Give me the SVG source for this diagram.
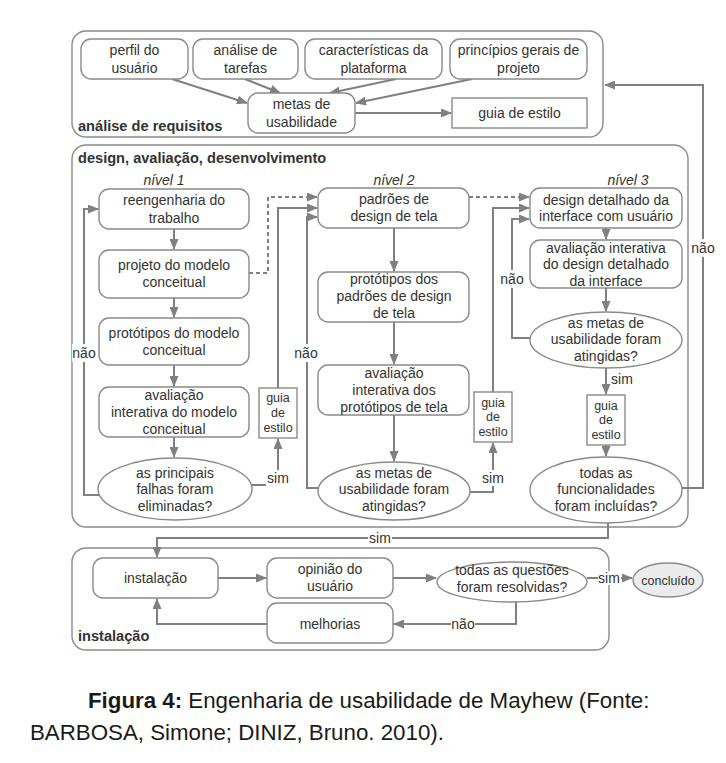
<svg xmlns="http://www.w3.org/2000/svg" width="726" height="763" viewBox="0 0 726 763">
<style>
text{font-family:"Liberation Sans",Arial,sans-serif;fill:#333;font-size:14px;text-anchor:middle}
.sec{fill:none;stroke:#8a8a8a;stroke-width:1.4}
.box{fill:#fff;stroke:#8a8a8a;stroke-width:1.4}
.c{fill:none;stroke:#808080;stroke-width:2}
.d{fill:none;stroke:#808080;stroke-width:2;stroke-dasharray:4 3}
.lbl{fill:#fff;stroke:none}
.b{font-weight:bold;text-anchor:start;font-size:14.6px}
.i{font-style:italic}
.s{font-size:12.5px}
.cap{font-size:22.3px;fill:#1a1a1a;text-anchor:start}
</style>
<defs>
<marker id="a" markerUnits="userSpaceOnUse" markerWidth="11" markerHeight="9" refX="10" refY="4.5" orient="auto">
<path d="M0,0 L11,4.5 L0,9 z" fill="#808080"/>
</marker>
</defs>
<rect id="background" width="726" height="763" fill="#fff"/>

<!-- sections -->
<g id="sec-analise">
<rect class="sec" x="72" y="31" width="531" height="106" rx="14"/>
<text class="b" x="78" y="131">análise de requisitos</text>
</g>
<g id="sec-design">
<rect class="sec" x="72" y="145" width="616" height="382" rx="14"/>
<text class="b" x="78" y="163">design, avaliação, desenvolvimento</text>
<text class="i" x="164" y="185">nível 1</text>
<text class="i" x="394" y="185">nível 2</text>
<text class="i" x="628" y="185">nível 3</text>
</g>
<g id="sec-instalacao">
<rect class="sec" x="72" y="548" width="537" height="102" rx="14"/>
<text class="b" x="78" y="641">instalação</text>
</g>

<!-- connectors -->
<g id="connectors">
<path class="c" d="M172,79 L247,103" marker-end="url(#a)"/>
<path class="c" d="M245,79 L280,93" marker-end="url(#a)"/>
<path class="c" d="M396,79 L330,93" marker-end="url(#a)"/>
<path class="c" d="M472,79 L356,103" marker-end="url(#a)"/>
<path class="c" d="M355,113 H451" marker-end="url(#a)"/>

<path class="c" d="M174,229 V249" marker-end="url(#a)"/>
<path class="c" d="M174,298 V317" marker-end="url(#a)"/>
<path class="c" d="M174,365 V386" marker-end="url(#a)"/>
<path class="c" d="M174,437 V457" marker-end="url(#a)"/>
<path class="c" d="M100,495 H84 V209 H98" marker-end="url(#a)"/>
<path class="c" d="M252,485 H278 V439" marker-end="url(#a)"/>
<path class="c" d="M278,388 V208 H317" marker-end="url(#a)"/>
<path class="d" d="M249,273 H268 V197 H317" marker-end="url(#a)"/>

<path class="c" d="M394,228 V271" marker-end="url(#a)"/>
<path class="c" d="M394,322 V364" marker-end="url(#a)"/>
<path class="c" d="M394,415 V461" marker-end="url(#a)"/>
<path class="c" d="M319,488 H307 V217 H317" marker-end="url(#a)"/>
<path class="c" d="M469,492 H493 V443" marker-end="url(#a)"/>
<path class="c" d="M493,392 V208 H529" marker-end="url(#a)"/>
<path class="d" d="M469,197 H529" marker-end="url(#a)"/>

<path class="c" d="M606,228 V239" marker-end="url(#a)"/>
<path class="c" d="M606,288 V311" marker-end="url(#a)"/>
<path class="c" d="M606,368 V394" marker-end="url(#a)"/>
<path class="c" d="M606,445 V456" marker-end="url(#a)"/>
<path class="c" d="M531,338 H512 V219 H529" marker-end="url(#a)"/>
<path class="c" d="M681,488 H703 V85 H605" marker-end="url(#a)"/>
<path class="c" d="M608,523 V538 H157 V557" marker-end="url(#a)"/>

<path class="c" d="M218,578 H266" marker-end="url(#a)"/>
<path class="c" d="M393,578 H436" marker-end="url(#a)"/>
<path class="c" d="M587,578 H632" marker-end="url(#a)"/>
<path class="c" d="M516,602 V624 H394" marker-end="url(#a)"/>
<path class="c" d="M267,624 H157 V599" marker-end="url(#a)"/>

<!-- labels on connectors -->
<rect class="lbl" x="72" y="344" width="24" height="18"/>
<text x="84" y="358">não</text>
<rect class="lbl" x="266" y="470" width="24" height="16"/>
<text x="278" y="483">sim</text>
<rect class="lbl" x="294" y="344" width="24" height="18"/>
<text x="306" y="358">não</text>
<rect class="lbl" x="481" y="470" width="24" height="16"/>
<text x="493" y="483">sim</text>
<rect class="lbl" x="500" y="270" width="24" height="18"/>
<text x="512" y="284">não</text>
<text x="622" y="384">sim</text>
<rect class="lbl" x="691" y="239" width="24" height="18"/>
<text x="703" y="253">não</text>
<rect class="lbl" x="368" y="531" width="24" height="14"/>
<text x="380" y="543">sim</text>
<rect class="lbl" x="598" y="571" width="23" height="14"/>
<text x="609" y="583">sim</text>
<rect class="lbl" x="451" y="617" width="24" height="14"/>
<text x="463" y="629">não</text>
</g>

<!-- top nodes -->
<g id="perfil"><rect class="box" x="81" y="39" width="107" height="40" rx="10"/><text x="134.5" y="55">perfil do</text><text x="134.5" y="73">usuário</text></g>
<g id="analise-tarefas"><rect class="box" x="193" y="39" width="105" height="40" rx="10"/><text x="245.5" y="55">análise de</text><text x="245.5" y="73">tarefas</text></g>
<g id="caracteristicas"><rect class="box" x="305" y="39" width="137" height="40" rx="10"/><text x="373.5" y="55">características da</text><text x="373.5" y="73">plataforma</text></g>
<g id="principios"><rect class="box" x="450" y="39" width="137" height="40" rx="10"/><text x="518.5" y="55">princípios gerais de</text><text x="518.5" y="73">projeto</text></g>
<g id="metas"><rect class="box" x="248" y="93" width="107" height="40" rx="10"/><text x="301.5" y="109">metas de</text><text x="301.5" y="127">usabilidade</text></g>
<g id="guia-top"><rect class="box" x="452" y="98" width="135" height="30"/><text x="519.5" y="118">guia de estilo</text></g>

<!-- level 1 -->
<g id="reengenharia"><rect class="box" x="99" y="189" width="150" height="40" rx="10"/><text x="174" y="205">reengenharia do</text><text x="174" y="223">trabalho</text></g>
<g id="projeto-modelo"><rect class="box" x="99" y="250" width="150" height="48" rx="10"/><text x="174" y="270">projeto do modelo</text><text x="174" y="287">conceitual</text></g>
<g id="prototipos-modelo"><rect class="box" x="99" y="318" width="150" height="47" rx="10"/><text x="174" y="338">protótipos do modelo</text><text x="174" y="355">conceitual</text></g>
<g id="avaliacao-modelo"><rect class="box" x="99" y="387" width="150" height="50" rx="10"/><text x="174" y="400">avaliação</text><text x="174" y="417">interativa do modelo</text><text x="174" y="434">conceitual</text></g>
<g id="principais-falhas"><ellipse class="box" cx="175" cy="489" rx="77" ry="31"/><text x="175" y="478">as principais</text><text x="175" y="494">falhas foram</text><text x="175" y="511">eliminadas?</text></g>
<g id="guia-1"><rect class="box" x="259" y="388" width="38" height="50"/><text class="s" x="278" y="402">guia</text><text class="s" x="278" y="417">de</text><text class="s" x="278" y="432">estilo</text></g>

<!-- level 2 -->
<g id="padroes"><rect class="box" x="318" y="188" width="151" height="40" rx="10"/><text x="394" y="204">padrões de</text><text x="394" y="221">design de tela</text></g>
<g id="prototipos-padroes"><rect class="box" x="318" y="272" width="151" height="50" rx="10"/><text x="394" y="284">protótipos dos</text><text x="394" y="301">padrões de design</text><text x="394" y="318">de tela</text></g>
<g id="avaliacao-prototipos"><rect class="box" x="318" y="365" width="151" height="50" rx="10"/><text x="394" y="378">avaliação</text><text x="394" y="395">interativa dos</text><text x="394" y="412">protótipos de tela</text></g>
<g id="metas-2"><ellipse class="box" cx="394" cy="491" rx="76" ry="29"/><text x="394" y="478">as metas de</text><text x="394" y="494">usabilidade foram</text><text x="394" y="511">atingidas?</text></g>
<g id="guia-2"><rect class="box" x="474" y="392" width="38" height="50"/><text class="s" x="493" y="407">guia</text><text class="s" x="493" y="421">de</text><text class="s" x="493" y="436">estilo</text></g>

<!-- level 3 -->
<g id="design-detalhado"><rect class="box" x="530" y="188" width="152" height="40" rx="10"/><text x="606" y="205">design detalhado da</text><text x="606" y="221">interface com usuário</text></g>
<g id="avaliacao-design"><rect class="box" x="530" y="240" width="152" height="48" rx="10"/><text x="606" y="253">avaliação interativa</text><text x="606" y="269">do design detalhado</text><text x="606" y="286">da interface</text></g>
<g id="metas-3"><ellipse class="box" cx="606" cy="340" rx="76" ry="28"/><text x="606" y="328">as metas de</text><text x="606" y="344">usabilidade foram</text><text x="606" y="361">atingidas?</text></g>
<g id="guia-3"><rect class="box" x="587" y="395" width="38" height="50"/><text class="s" x="606" y="410">guia</text><text class="s" x="606" y="424">de</text><text class="s" x="606" y="439">estilo</text></g>
<g id="funcionalidades"><ellipse class="box" cx="606" cy="490" rx="76" ry="33"/><text x="606" y="478">todas as</text><text x="606" y="494">funcionalidades</text><text x="606" y="511">foram incluídas?</text></g>

<!-- instalação -->
<g id="instalacao"><rect class="box" x="93" y="558" width="125" height="40" rx="10"/><text x="155.5" y="583">instalação</text></g>
<g id="opiniao"><rect class="box" x="267" y="558" width="126" height="40" rx="10"/><text x="330" y="574">opinião do</text><text x="330" y="591">usuário</text></g>
<g id="melhorias"><rect class="box" x="267" y="603" width="126" height="40" rx="10"/><text x="330" y="629">melhorias</text></g>
<g id="questoes"><ellipse class="box" cx="512" cy="582" rx="75" ry="20"/><text x="512" y="575">todas as questões</text><text x="512" y="592">foram resolvidas?</text></g>
<g id="concluido"><ellipse cx="668" cy="580" rx="35" ry="17" fill="#ebebeb" stroke="#8a8a8a" stroke-width="1.4"/><text class="s" x="668" y="585">concluído</text></g>

<!-- caption -->
<g id="caption">
<text class="cap" x="88" y="708"><tspan font-weight="bold">Figura 4:</tspan> Engenharia de usabilidade de Mayhew (Fonte:</text>
<text class="cap" x="30" y="740">BARBOSA, Simone; DINIZ, Bruno. 2010).</text>
</g>
</svg>
